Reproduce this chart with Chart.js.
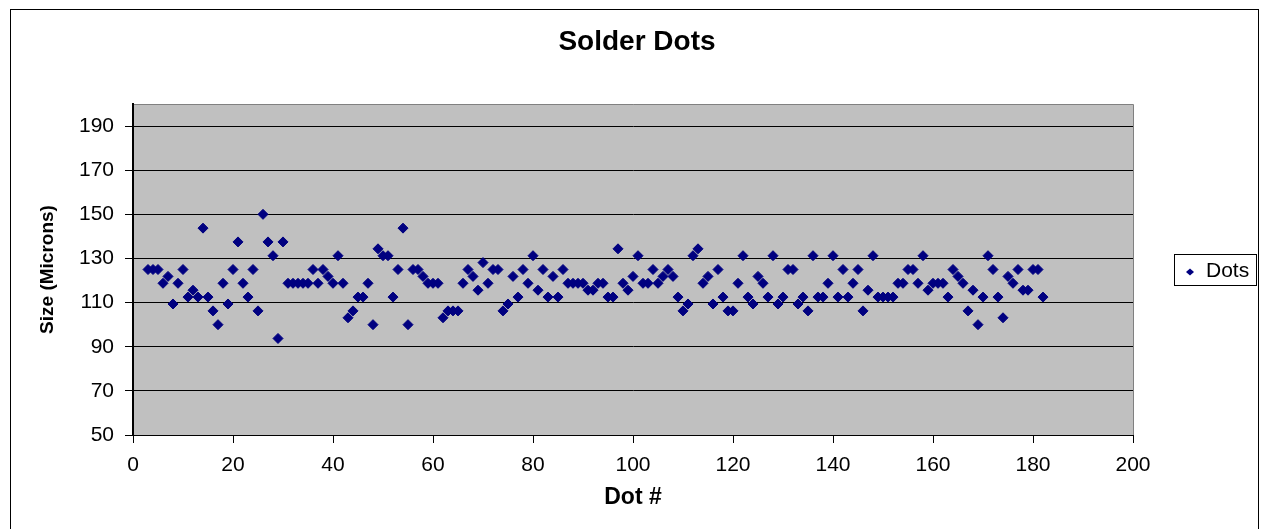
<!DOCTYPE html>
<html>
<head>
<meta charset="utf-8">
<title>Solder Dots</title>
<script src="https://cdn.jsdelivr.net/npm/chart.js@4.4.1/dist/chart.umd.min.js"></script>
<style>
  html, body { margin: 0; padding: 0; background: #fff; }
  #chart { display: block; }
</style>
</head>
<body>
<canvas id="chart" width="1261" height="529"></canvas>
<script>
// dot numbers run on from firstDot, one size reading per dot
const firstDot = 3;
const dotSizes = [
  125, 125, 125, 118.75, 121.875, 109.375, 118.75, 125, 112.5, 115.625,
  112.5, 143.75, 112.5, 106.25, 100, 118.75, 109.375, 125, 137.5, 118.75,
  112.5, 125, 106.25, 150, 137.5, 131.25, 93.75, 137.5, 118.75, 118.75,
  118.75, 118.75, 118.75, 125, 118.75, 125, 121.875, 118.75, 131.25, 118.75,
  103.125, 106.25, 112.5, 112.5, 118.75, 100, 134.375, 131.25, 131.25, 112.5,
  125, 143.75, 100, 125, 125, 121.875, 118.75, 118.75, 118.75, 103.125,
  106.25, 106.25, 106.25, 118.75, 125, 121.875, 115.625, 128.125, 118.75, 125,
  125, 106.25, 109.375, 121.875, 112.5, 125, 118.75, 131.25, 115.625, 125,
  112.5, 121.875, 112.5, 125, 118.75, 118.75, 118.75, 118.75, 115.625, 115.625,
  118.75, 118.75, 112.5, 112.5, 134.375, 118.75, 115.625, 121.875, 131.25, 118.75,
  118.75, 125, 118.75, 121.875, 125, 121.875, 112.5, 106.25, 109.375, 131.25,
  134.375, 118.75, 121.875, 109.375, 125, 112.5, 106.25, 106.25, 118.75, 131.25,
  112.5, 109.375, 121.875, 118.75, 112.5, 131.25, 109.375, 112.5, 125, 125,
  109.375, 112.5, 106.25, 131.25, 112.5, 112.5, 118.75, 131.25, 112.5, 125,
  112.5, 118.75, 125, 106.25, 115.625, 131.25, 112.5, 112.5, 112.5, 112.5,
  118.75, 118.75, 125, 125, 118.75, 131.25, 115.625, 118.75, 118.75, 118.75,
  112.5, 125, 121.875, 118.75, 106.25, 115.625, 100, 112.5, 131.25, 125,
  112.5, 103.125, 121.875, 118.75, 125, 115.625, 115.625, 125, 125, 112.5
];
const xTicks = [0, 20, 40, 60, 80, 100, 120, 140, 160, 180, 200];
const yTicks = [50, 70, 90, 110, 130, 150, 170, 190];
const seriesName = 'Dots';
const chartTitle = 'Solder Dots';

const FONT = 'Arial, "Liberation Sans", sans-serif';
const NAVY = '#000080';

Chart.defaults.font.family = FONT;
Chart.defaults.color = '#000';

const framePlugin = {
  id: 'frame',
  beforeDraw(chart) {
    const { ctx, chartArea: a } = chart;
    ctx.save();
    ctx.fillStyle = '#fff';
    ctx.fillRect(0, 0, chart.width, chart.height);
    ctx.strokeStyle = '#000';
    ctx.lineWidth = 1;
    ctx.strokeRect(10.5, 9.5, 1248, 530);
    ctx.fillStyle = '#C0C0C0';
    ctx.fillRect(a.left, a.top, a.right - a.left, a.bottom - a.top);
    ctx.strokeStyle = '#808080';
    ctx.beginPath();
    ctx.moveTo(a.left, a.top + 0.5);
    ctx.lineTo(a.right + 0.5, a.top + 0.5);
    ctx.lineTo(a.right + 0.5, a.bottom);
    ctx.stroke();
    // chart title, centred on the whole frame
    ctx.fillStyle = '#000';
    ctx.font = 'bold 28px ' + FONT;
    ctx.textAlign = 'center';
    ctx.textBaseline = 'middle';
    ctx.fillText(chartTitle, 637, 42);
    ctx.restore();
  }
};

const legendPlugin = {
  id: 'boxLegend',
  afterDraw(chart) {
    const { ctx } = chart;
    ctx.save();
    ctx.strokeStyle = '#000';
    ctx.lineWidth = 1;
    ctx.strokeRect(1174.5, 254.5, 82, 31);
    ctx.fillStyle = NAVY;
    ctx.beginPath();
    ctx.moveTo(1186, 272);
    ctx.lineTo(1190, 268.5);
    ctx.lineTo(1194, 272);
    ctx.lineTo(1190, 275.5);
    ctx.closePath();
    ctx.fill();
    ctx.fillStyle = '#000';
    ctx.font = '21px ' + FONT;
    ctx.textBaseline = 'middle';
    ctx.fillText(chart.data.datasets[0].label, 1206, 271);
    ctx.restore();
  }
};

new Chart(document.getElementById('chart'), {
  type: 'scatter',
  data: {
    datasets: [{
      label: seriesName,
      data: dotSizes.map((y, i) => ({ x: firstDot + i, y })),
      backgroundColor: NAVY,
      borderColor: NAVY,
      pointStyle: 'rectRot',
      pointRadius: 5,
      borderWidth: 1
    }]
  },
  options: {
    responsive: false,
    animation: false,
    devicePixelRatio: 1,
    layout: { padding: { left: 10, top: 104, right: 128, bottom: 0 } },
    plugins: {
      legend: { display: false },
      tooltip: { enabled: false },
      title: { display: false }
    },
    scales: {
      x: {
        type: 'linear',
        min: 0,
        max: 200,
        afterBuildTicks: s => { s.ticks = xTicks.map(v => ({ value: v })); },
        afterFit: s => { s.height = 94; },
        grid: { drawOnChartArea: false, drawTicks: true, tickLength: 8, color: '#000' },
        border: { display: true, color: '#000', width: 1 },
        ticks: { font: { size: 21 }, padding: 10, color: '#000', maxRotation: 0 },
        title: {
          display: true,
          text: 'Dot #',
          color: '#000',
          font: { size: 23, weight: 'bold', lineHeight: 1.2 },
          padding: { top: 0, bottom: 18 }
        }
      },
      y: {
        type: 'linear',
        min: 50,
        max: 200,
        afterBuildTicks: s => { s.ticks = yTicks.map(v => ({ value: v })); },
        afterFit: s => { s.width = 123; },
        grid: { drawOnChartArea: true, drawTicks: true, tickLength: 8, color: '#000', lineWidth: 1 },
        border: { display: true, color: '#000', width: 2 },
        ticks: { font: { size: 21 }, padding: 11, color: '#000' },
        title: {
          display: true,
          text: 'Size (Microns)',
          color: '#000',
          font: { size: 19, weight: 'bold', lineHeight: 1.2 },
          padding: { top: 26, bottom: 0 }
        }
      }
    }
  },
  plugins: [framePlugin, legendPlugin]
});
</script>
</body>
</html>
